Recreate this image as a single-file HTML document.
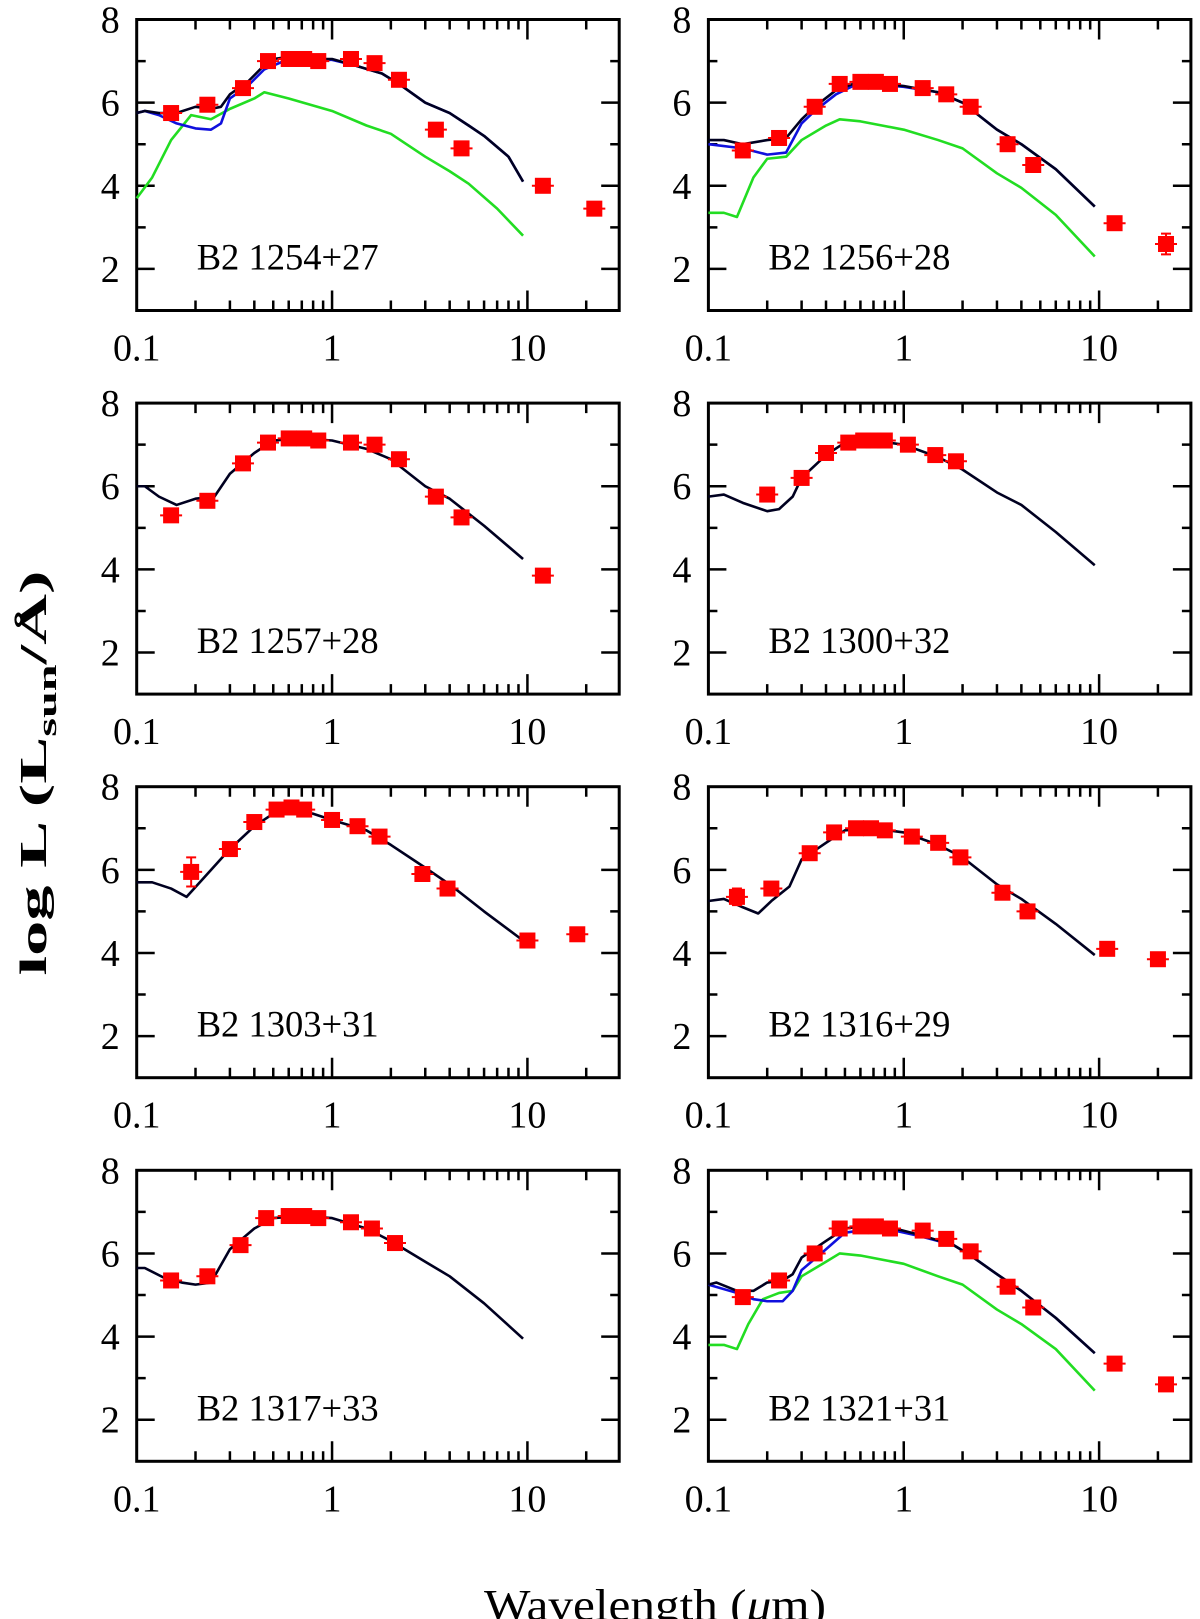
<!DOCTYPE html>
<html><head><meta charset="utf-8"><style>
html,body{margin:0;padding:0;background:#fff;}
svg{display:block;}
text{font-family:"Liberation Serif",serif;fill:#000;}
</style></head><body>
<svg id="fig" width="1200" height="1619" viewBox="0 0 1200 1619" xmlns="http://www.w3.org/2000/svg">
<g id="panels"></g>
<text transform="translate(46,773) rotate(-90)" text-anchor="middle" font-size="38" font-weight="bold" textLength="405" lengthAdjust="spacingAndGlyphs">log L (L<tspan font-size="26" dy="10">sun</tspan><tspan dy="-10">/Å)</tspan></text>
<text x="655" y="1620" text-anchor="middle" font-size="44" textLength="342" lengthAdjust="spacingAndGlyphs">Wavelength (<tspan font-style="italic">μ</tspan>m)</text>
</svg>
<script>
// ---- data ----
const panelNames = ["B2 1254+27","B2 1256+28","B2 1257+28","B2 1300+32","B2 1303+31","B2 1316+29","B2 1317+33","B2 1321+31"];
const yTicks = [2,4,6,8];
const xTickLabels = ["0.1","1","10"];
const xTickValues = [0.1,1,10];

const ptsX = [
 [0.15,0.23,0.35,0.47,0.6,0.72,0.85,1.25,1.65,2.2,3.4,4.6,12,22],
 [0.15,0.23,0.35,0.47,0.6,0.72,0.85,1.25,1.65,2.2,3.4,4.6,12,22],
 [0.15,0.23,0.35,0.47,0.6,0.72,0.85,1.25,1.65,2.2,3.4,4.6,12],
 [0.2,0.3,0.4,0.52,0.62,0.7,0.8,1.05,1.45,1.85],
 [0.19,0.3,0.4,0.52,0.62,0.72,1.0,1.35,1.75,2.9,3.9,10,18],
 [0.14,0.21,0.33,0.44,0.57,0.68,0.8,1.1,1.5,1.95,3.2,4.3,11,20],
 [0.15,0.23,0.34,0.46,0.6,0.72,0.85,1.25,1.6,2.1],
 [0.15,0.23,0.35,0.47,0.6,0.72,0.85,1.25,1.65,2.2,3.4,4.6,12,22]
];
const ptsY = [
 [5.75,5.95,6.35,7.0,7.05,7.05,7.0,7.05,6.95,6.55,5.35,4.9,4.0,3.45],
 [4.85,5.15,5.9,6.45,6.5,6.5,6.45,6.35,6.2,5.9,5.0,4.5,3.1,2.6],
 [5.3,5.65,6.55,7.05,7.15,7.15,7.1,7.05,7.0,6.65,5.75,5.25,3.85],
 [5.8,6.2,6.8,7.05,7.1,7.1,7.1,7.0,6.75,6.6],
 [5.95,6.5,7.15,7.45,7.5,7.45,7.2,7.05,6.8,5.9,5.55,4.3,4.45],
 [5.35,5.55,6.4,6.9,7.0,7.0,6.95,6.8,6.65,6.3,5.45,5.0,4.1,3.85],
 [5.35,5.45,6.2,6.85,6.9,6.9,6.85,6.75,6.6,6.25],
 [4.95,5.35,6.0,6.6,6.65,6.65,6.6,6.55,6.35,6.05,5.2,4.7,3.35,2.85]
];
const ptsYerr = [
 [0.08,0.08,0.08,0.05,0.05,0.05,0.05,0.05,0.05,0.05,0.08,0.08,0.08,0.08],
 [0.08,0.08,0.08,0.05,0.05,0.05,0.05,0.05,0.05,0.05,0.08,0.08,0.1,0.25],
 [0.1,0.08,0.08,0.05,0.05,0.05,0.05,0.05,0.05,0.05,0.08,0.08,0.08],
 [0.15,0.08,0.05,0.05,0.05,0.05,0.05,0.05,0.05,0.05],
 [0.35,0.1,0.05,0.05,0.05,0.05,0.05,0.05,0.05,0.1,0.08,0.08,0.08],
 [0.2,0.1,0.08,0.05,0.05,0.05,0.05,0.05,0.05,0.05,0.08,0.08,0.08,0.08],
 [0.1,0.1,0.08,0.05,0.05,0.05,0.05,0.05,0.05,0.05],
 [0.1,0.1,0.08,0.05,0.05,0.05,0.05,0.05,0.05,0.05,0.08,0.08,0.1,0.1]
];

const blackX = [
 [0.1,0.11,0.13,0.16,0.2,0.24,0.27,0.3,0.37,0.45,0.5,0.6,0.8,1.0,1.3,1.8,2.2,3,4,5,6,8,9.5],
 [0.1,0.12,0.15,0.2,0.25,0.3,0.35,0.45,0.55,0.8,1.0,1.5,2,3,4,6,9.5],
 [0.1,0.11,0.13,0.16,0.2,0.25,0.3,0.4,0.5,0.7,1,1.5,2,3,4,6,9.5],
 [0.1,0.12,0.15,0.2,0.23,0.27,0.3,0.4,0.5,0.7,1,1.5,2,3,4,6,9.5],
 [0.1,0.12,0.15,0.18,0.22,0.3,0.4,0.5,0.65,0.8,1,1.5,2,3,4,6,9.5],
 [0.1,0.12,0.15,0.18,0.21,0.26,0.3,0.4,0.5,0.7,1,1.5,2,3,4,6,9.5],
 [0.1,0.11,0.14,0.17,0.2,0.24,0.3,0.4,0.5,0.7,1,1.5,2,3,4,6,9.5],
 [0.1,0.11,0.14,0.17,0.2,0.24,0.27,0.3,0.4,0.5,0.6,0.9,1.2,1.8,2.2,3,4,6,9.5]
];
const blackY = [
 [5.75,5.8,5.75,5.75,5.9,5.85,5.9,6.2,6.5,6.9,7.05,7.1,7.05,7.05,6.9,6.7,6.45,6.0,5.75,5.45,5.2,4.7,4.1],
 [5.1,5.1,5.0,5.1,5.15,5.6,5.9,6.3,6.45,6.45,6.4,6.25,6.0,5.35,5.0,4.4,3.5],
 [6.0,6.0,5.75,5.55,5.7,5.75,6.3,6.8,7.1,7.15,7.1,6.9,6.65,6.0,5.7,5.05,4.25],
 [5.75,5.8,5.6,5.4,5.45,5.75,6.2,6.75,7.05,7.1,7.0,6.7,6.4,5.85,5.55,4.9,4.1],
 [5.7,5.7,5.55,5.35,5.8,6.5,7.05,7.35,7.4,7.35,7.2,6.95,6.6,6.05,5.65,5.0,4.3],
 [5.25,5.3,5.1,4.95,5.25,5.6,6.25,6.65,6.95,7.0,6.9,6.6,6.3,5.65,5.3,4.7,3.95],
 [5.65,5.65,5.4,5.3,5.25,5.3,6.1,6.6,6.85,6.9,6.85,6.6,6.3,5.8,5.45,4.8,3.95],
 [5.25,5.3,5.1,5.1,5.3,5.35,5.5,5.9,6.3,6.6,6.65,6.6,6.45,6.2,5.95,5.5,5.1,4.45,3.6]
];
const blueX = {
 0:[0.1,0.11,0.13,0.16,0.2,0.24,0.27,0.3,0.37,0.45,0.6,0.8,1.0,1.3,1.8,2.2,3,4,5,6,8,9.5],
 1:[0.1,0.15,0.2,0.25,0.3,0.35,0.45,0.55,0.8,1.0,1.5,2,3,4,6,9.5],
 7:[0.1,0.14,0.17,0.2,0.24,0.27,0.3,0.4,0.5,0.6,0.9,1.2,1.8,2.2,3,4,6,9.5]
};
const blueY = {
 0:[5.75,5.8,5.7,5.5,5.38,5.35,5.5,6.1,6.4,6.8,7.05,7.03,7.03,6.9,6.7,6.45,6.0,5.75,5.45,5.2,4.7,4.1],
 1:[5.0,4.9,4.75,4.8,5.5,5.8,6.2,6.4,6.42,6.38,6.25,6.0,5.35,5.0,4.4,3.5],
 7:[5.25,5.05,4.9,4.85,4.85,5.1,5.6,6.1,6.5,6.55,6.55,6.42,6.2,5.95,5.5,5.1,4.45,3.6]
};
const greenX = {
 0:[0.1,0.12,0.15,0.19,0.24,0.3,0.4,0.45,0.6,1,1.5,2,3,4,5,7,9.5],
 1:[0.1,0.12,0.14,0.17,0.2,0.25,0.3,0.4,0.47,0.6,1,1.5,2,3,4,6,9.5],
 7:[0.1,0.12,0.14,0.16,0.19,0.23,0.27,0.3,0.4,0.47,0.6,1,1.5,2,3,4,6,9.5]
};
const greenY = {
 0:[3.7,4.2,5.1,5.7,5.6,5.85,6.1,6.25,6.1,5.8,5.45,5.25,4.7,4.35,4.05,3.45,2.8],
 1:[3.35,3.35,3.25,4.2,4.65,4.7,5.1,5.45,5.6,5.55,5.35,5.1,4.9,4.3,3.95,3.3,2.3],
 7:[3.8,3.8,3.7,4.3,4.9,5.05,5.1,5.45,5.8,6.0,5.95,5.75,5.45,5.25,4.65,4.3,3.7,2.7]
};

// ---- layout ----
const NS = "http://www.w3.org/2000/svg";
const colX0 = [136.7, 708.4];
const rowY0 = 19.5, rowStep = 383.6;
const PW = 482.5, PH = 291;
const XMIN = 0.1, XMAX = 29.5, YMIN = 1, YMAX = 8;
const root = document.getElementById('panels');

function mk(tag, attrs, parent){
  const e = document.createElementNS(NS, tag);
  for (const k in attrs) e.setAttribute(k, attrs[k]);
  parent.appendChild(e);
  return e;
}

panelNames.forEach((name, i) => {
  const col = i % 2, row = Math.floor(i / 2);
  const x0 = colX0[col], y0 = rowY0 + row * rowStep;
  const sx = v => x0 + (Math.log10(v) - Math.log10(XMIN)) / (Math.log10(XMAX) - Math.log10(XMIN)) * PW;
  const sy = v => y0 + (YMAX - v) / (YMAX - YMIN) * PH;

  const g = mk('g', {}, root);
  
  

  const tk = mk('g', {stroke:'#000', 'stroke-width':2.5, fill:'none'}, g);
  
  
  let d = '';
  for (let v = 2; v <= 7; v++) {
    const L = (v % 2 === 0) ? 18 : 9, y = sy(v);
    d += `M${x0},${y}h${L}M${x0+PW},${y}h${-L}`;
  }
  for (let dec = 0.1; dec < 30; dec *= 10) {
    for (let m = 1; m <= 9; m++) {
      const v = dec * m;
      if (v <= XMIN || v >= XMAX) continue;
      const L = (m === 1) ? 20 : 10, x = sx(v);
      d += `M${x},${y0}v${L}M${x},${y0+PH}v${-L}`;
    }
  }
  mk('path', {d}, tk);

  const fr = mk('rect', {x:x0, y:y0, width:PW, height:PH, fill:'none', stroke:'#000', 'stroke-width':3}, g);
  
  

  yTicks.forEach(v => {
    const t = mk('text', {x:x0-17, y:sy(v)+13, 'text-anchor':'end', 'font-size':38}, g);
    
    
    t.textContent = String(v);
  });
  xTickValues.forEach((v, k) => {
    const t = mk('text', {x:sx(v), y:y0+PH+50, 'text-anchor':'middle', 'font-size':38}, g);
    
    
    t.textContent = xTickLabels[k];
  });

  const line = (xs, ys, color, nm) => {
    const p = mk('polyline', {points: xs.map((v, k) => sx(v) + ',' + sy(ys[k])).join(' '), fill:'none', stroke:color, 'stroke-width':2.6, 'stroke-linejoin':'round'}, g);
    
    
  };
  if (greenX[i]) line(greenX[i], greenY[i], '#22dd22', 'host-galaxy-model-line');
  if (blueX[i]) line(blueX[i], blueY[i], '#1010dd', 'agn-model-line');
  line(blackX[i], blackY[i], '#000020', 'total-model-line');

  ptsX[i].forEach((xv, k) => {
    const cx = sx(xv), cy = sy(ptsY[i][k]), e = ptsYerr[i][k];
    const pg = mk('g', {fill:'#ff0000', stroke:'#ff0000'}, g);
    
    
    mk('rect', {x:cx-8, y:cy-8, width:16, height:16, stroke:'none'}, pg);
    mk('path', {d:`M${cx-11},${cy}h22M${cx},${sy(ptsY[i][k]+e)}V${sy(ptsY[i][k]-e)}M${cx-5},${sy(ptsY[i][k]+e)}h10M${cx-5},${sy(ptsY[i][k]-e)}h10`, 'stroke-width':2, fill:'none'}, pg);
  });

  const lab = mk('text', {x:x0+60, y:y0+250, 'font-size':37, textLength:182, lengthAdjust:'spacingAndGlyphs'}, g);
  
  
  lab.textContent = name;
});
</script>
</body></html>
